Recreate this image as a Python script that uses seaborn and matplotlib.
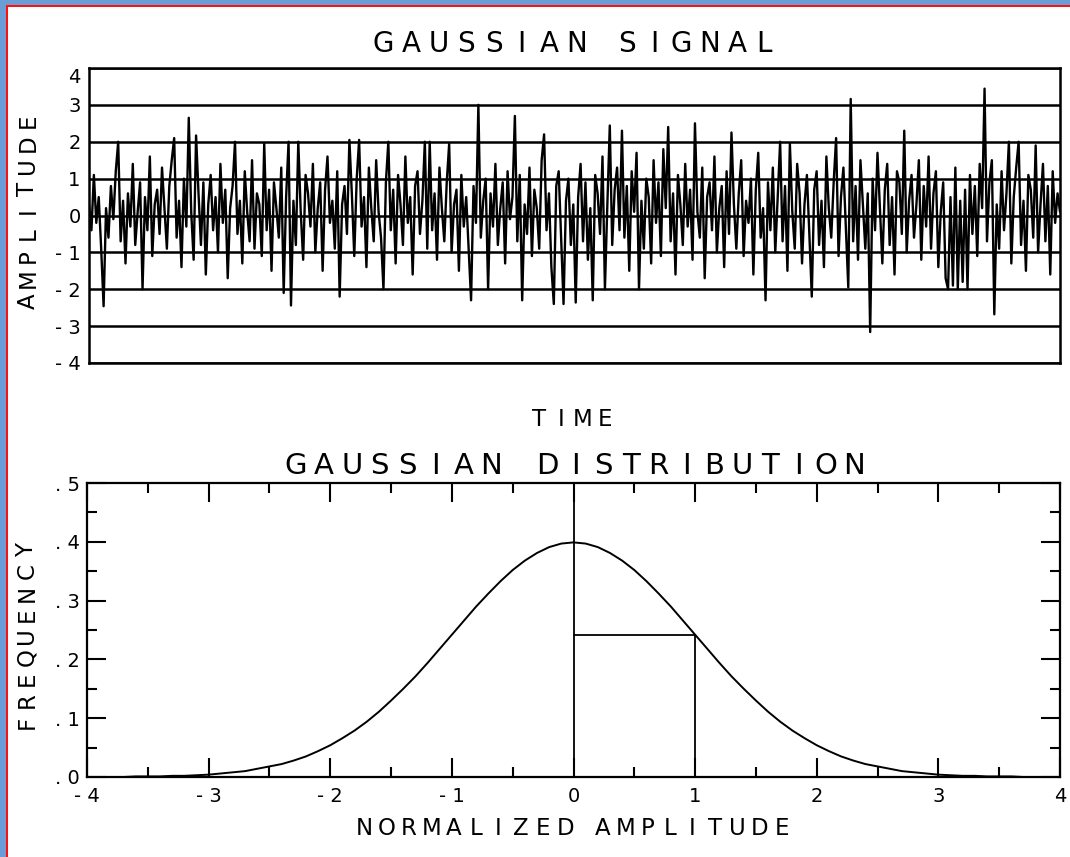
import matplotlib
matplotlib.use('Agg')
import matplotlib.pyplot as plt
import seaborn as sns
import numpy as np
from matplotlib.patches import Rectangle
from matplotlib.ticker import MultipleLocator

signal = [
    0.3, -0.4, 1.1, -0.2, 0.5, -0.9, -2.46, 0.2, -0.6, 0.8, -0.1, 1.2, 2.0, -0.7, 0.4, -1.3, 0.6, -0.3, 1.4, -0.8,
    0.1, 0.9, -2.0, 0.5, -0.4, 1.6, -1.1, 0.3, 0.7, -0.5, 1.3, 0.2, -0.9, 0.8, 1.5, 2.1, -0.6, 0.4, -1.4, 1.0,
    -0.3, 2.65, 0.1, -1.2, 2.17, 0.6, -0.8, 0.9, -1.6, 0.3, 1.1, -0.4, 0.5, -1.0, 1.4, -0.2, 0.7, -1.7, 0.2, 0.8,
    2.0, -0.5, 0.4, -1.3, 1.2, 0.1, -0.7, 1.5, -0.9, 0.6, 0.3, -1.1, 1.95, -0.4, 0.7, -1.5, 0.9, 0.2, -0.6, 1.3,
    -2.1, 0.5, 2.0, -2.44, 0.4, -0.8, 2.0, 0.1, -1.2, 1.1, 0.6, -0.3, 1.4, -1.0, 0.2, 0.9, -1.5, 0.7, 1.6, -0.2,
    0.4, -0.9, 1.2, -2.2, 0.3, 0.8, -0.5, 2.05, 0.6, -1.1, 1.0, 2.05, -0.3, 0.5, -1.4, 1.3, 0.2, -0.7, 1.5, 0.1,
    -0.6, -2.0, 0.9, 2.0, -0.4, 0.7, -1.3, 1.1, 0.3, -0.8, 1.6, -0.2, 0.5, -1.6, 0.8, 1.2, -0.5, 0.4, 2.0, -0.9,
    2.0, -0.4, 0.6, -1.2, 1.3, 0.2, -0.7, 0.9, 1.95, -1.0, 0.3, 0.7, -1.5, 1.1, -0.3, 0.5, -0.9, -2.3, 0.8, -0.2,
    3.0, -0.6, 0.4, 1.0, -2.0, 0.6, -0.3, 1.4, -0.8, 0.2, 0.9, -1.3, 1.2, -0.1, 0.5, 2.7, -0.7, 1.1, -2.3, 0.3,
    -0.5, 1.3, -1.1, 0.7, 0.2, -0.9, 1.5, 2.2, -0.4, 0.6, -1.4, -2.4, 0.8, 1.2, -0.6, -2.4, 0.4, 1.0, -0.8, 0.3,
    -2.36, 0.5, 1.4, -0.7, 0.9, -1.2, 0.2, -2.3, 1.1, 0.6, -0.5, 1.6, -2.0, 0.3, 2.44, -0.8, 0.7, 1.3, -0.4, 2.3,
    -0.6, 0.8, -1.5, 1.2, 0.1, 1.7, -2.0, 0.4, -0.9, 1.0, 0.5, -1.3, 1.5, -0.2, 0.9, -1.1, 1.8, 0.2, 2.4, -0.7,
    0.6, -1.6, 1.1, 0.3, -0.8, 1.4, -0.3, 0.7, -1.2, 2.5, 0.1, -0.6, 1.3, -1.7, 0.5, 0.9, -0.4, 1.6, -1.0, 0.2,
    0.8, -1.4, 1.2, -0.5, 2.25, 0.3, -0.9, 0.6, 1.5, -1.1, 0.4, -0.2, 1.0, -1.6, 0.7, 1.7, -0.6, 0.2, -2.3, 0.9,
    -0.4, 1.3, -1.0, 0.5, 2.0, -0.7, 0.8, -1.5, 1.95, 0.1, -0.9, 1.4, 0.6, -1.3, 0.3, 1.1, -0.5, -2.2, 0.7, 1.2,
    -0.8, 0.4, -1.4, 1.6, 0.2, -0.6, 0.9, 2.1, -1.1, 0.5, 1.3, -0.3, -1.95, 3.16, -0.7, 0.8, -1.2, 1.5, 0.3, -0.9,
    0.6, -3.16, 1.0, -0.4, 1.7, 0.2, -1.3, 0.7, 1.4, -0.8, 0.5, -1.6, 1.2, 0.9, -0.5, 2.3, -1.0, 0.4, 1.1, -0.6,
    0.3, 1.5, -1.2, 0.8, -0.3, 1.6, -0.9, 0.6, 1.2, -1.4, 0.1, 0.9, -1.7, -2.0, 0.5, -1.9, 1.3, -2.0, 0.4, -1.8,
    0.7, -2.0, 1.1, -0.5, 0.8, -1.1, 1.4, 0.2, 3.44, -0.7, 0.9, 1.5, -2.68, 0.3, -0.9, 1.2, -0.4, 0.6, 2.0, -1.3,
    0.5, 1.3, 2.0, -0.8, 0.4, -1.5, 1.1, 0.7, -0.6, 1.9, -1.0, 0.3, 1.4, -0.7, 0.8, -1.6, 1.2, -0.2, 0.6, 0.1,
]
signal_ticks = [-4, -3, -2, -1, 0, 1, 2, 3, 4]
signal_labels = ['- 4', '- 3', '- 2', '- 1', '0', '1', '2', '3', '4']

# distribution curve
amplitude = [-4.0, -3.9, -3.8, -3.7, -3.6, -3.5, -3.4, -3.3, -3.2, -3.1,
             -3.0, -2.9, -2.8, -2.7, -2.6, -2.5, -2.4, -2.3, -2.2, -2.1,
             -2.0, -1.9, -1.8, -1.7, -1.6, -1.5, -1.4, -1.3, -1.2, -1.1,
             -1.0, -0.9, -0.8, -0.7, -0.6, -0.5, -0.4, -0.3, -0.2, -0.1,
             0.0, 0.1, 0.2, 0.3, 0.4, 0.5, 0.6, 0.7, 0.8, 0.9,
             1.0, 1.1, 1.2, 1.3, 1.4, 1.5, 1.6, 1.7, 1.8, 1.9,
             2.0, 2.1, 2.2, 2.3, 2.4, 2.5, 2.6, 2.7, 2.8, 2.9,
             3.0, 3.1, 3.2, 3.3, 3.4, 3.5, 3.6, 3.7, 3.8, 3.9, 4.0]
frequency = [0.000, 0.000, 0.000, 0.000, 0.001, 0.001, 0.001, 0.002, 0.002, 0.003,
             0.004, 0.006, 0.008, 0.010, 0.014, 0.018, 0.022, 0.028, 0.035, 0.044,
             0.054, 0.066, 0.079, 0.094, 0.111, 0.130, 0.150, 0.171, 0.194, 0.218,
             0.242, 0.266, 0.290, 0.312, 0.333, 0.352, 0.368, 0.381, 0.391, 0.397,
             0.399, 0.397, 0.391, 0.381, 0.368, 0.352, 0.333, 0.312, 0.290, 0.266,
             0.242, 0.218, 0.194, 0.171, 0.150, 0.130, 0.111, 0.094, 0.079, 0.066,
             0.054, 0.044, 0.035, 0.028, 0.022, 0.018, 0.014, 0.010, 0.008, 0.006,
             0.004, 0.003, 0.002, 0.002, 0.001, 0.001, 0.001, 0.000, 0.000, 0.000, 0.000]
amp_ticks = [-4, -3, -2, -1, 0, 1, 2, 3, 4]
amp_labels = ['- 4', '- 3', '- 2', '- 1', '0', '1', '2', '3', '4']
freq_ticks = [0.0, 0.1, 0.2, 0.3, 0.4, 0.5]
freq_labels = ['. 0', '. 1', '. 2', '. 3', '. 4', '. 5']

W, H = 1070, 857

sns.set_style('white')
plt.rcParams['font.family'] = ['DejaVu Sans']


def spaced_text(fig, text, cx, cy, step, size, gap=1.0, vertical=False):
    # plotter-style lettering: every letter in its own slot
    units = [gap if c == ' ' else 1.0 for c in text]
    pos = [0.0]
    for i in range(1, len(text)):
        pos.append(pos[-1] + (units[i - 1] + units[i]) / 2)
    mid = pos[-1] / 2
    cap = 0.729 * size * 100 / 72
    for c, p in zip(text, pos):
        if c == ' ':
            continue
        if vertical:
            x, y = cx + cap / 2, cy + (mid - p) * step
            fig.text(x / W, 1 - y / H, c, rotation=90, rotation_mode='anchor',
                     ha='center', va='baseline', fontsize=size, color='black')
        else:
            x, y = cx + (p - mid) * step, cy + cap / 2
            fig.text(x / W, 1 - y / H, c, ha='center', va='baseline',
                     fontsize=size, color='black')


fig = plt.figure(figsize=(W / 100, H / 100), dpi=100, facecolor='#6a9dd6')
fig.add_artist(Rectangle((8 / W, 0), 1, 1 - 7 / H, transform=fig.transFigure,
                         facecolor='white', edgecolor='none', zorder=-2))
fig.add_artist(Rectangle((6 / W, 0), 1.6 / W, 1 - 5 / H, transform=fig.transFigure,
                         facecolor='#ff1010', edgecolor='none', zorder=-1))
fig.add_artist(Rectangle((6 / W, 1 - 6.6 / H), 1, 1.6 / H, transform=fig.transFigure,
                         facecolor='#ff1010', edgecolor='none', zorder=-1))

# upper panel: the signal
ax1 = fig.add_axes([89 / W, 1 - 363 / H, 971 / W, 295 / H])
t = np.arange(len(signal))
sns.lineplot(x=t, y=signal, ax=ax1, color='black', linewidth=1.7)
ax1.set_xlim(0, len(signal) - 1)
ax1.set_ylim(-4, 4)
ax1.set_xticks([])
ax1.set_yticks(signal_ticks)
labels = ax1.set_yticklabels(signal_labels, fontsize=14)
labels[-1].set_va('top')
ax1.tick_params(axis='y', length=0, pad=6, labelcolor='black')
ax1.yaxis.grid(True, color='black', linewidth=1.8)
ax1.set_xlabel('')
ax1.set_ylabel('')
for s in ax1.spines.values():
    s.set_color('black')
    s.set_linewidth(1.8)

# lower panel: the distribution
ax2 = fig.add_axes([87 / W, 1 - 777 / H, 973 / W, 294 / H])
sns.lineplot(x=amplitude, y=frequency, ax=ax2, color='black', linewidth=1.4)
ax2.axvline(0, color='black', linewidth=1.3)
f1 = frequency[amplitude.index(1.0)]
ax2.plot([0, 1], [f1, f1], color='black', linewidth=1.3)
ax2.plot([1, 1], [0, f1], color='black', linewidth=1.3)
ax2.set_xlim(-4, 4)
ax2.set_ylim(0, 0.5)
ax2.set_xticks(amp_ticks)
ax2.set_xticklabels(amp_labels, fontsize=14)
ax2.set_yticks(freq_ticks)
ax2.set_yticklabels(freq_labels, fontsize=14)
ax2.xaxis.set_minor_locator(MultipleLocator(0.5))
ax2.yaxis.set_minor_locator(MultipleLocator(0.05))
ax2.tick_params(which='both', direction='in', bottom=True, left=True, top=True, right=True,
                width=1.5, color='black', labelcolor='black')
ax2.tick_params(which='major', length=14)
ax2.tick_params(which='minor', length=7.5)
ax2.tick_params(axis='x', pad=7)
ax2.tick_params(axis='y', pad=5)
ax2.set_xlabel('')
ax2.set_ylabel('')
for s in ax2.spines.values():
    s.set_color('black')
    s.set_linewidth(1.6)

spaced_text(fig, 'GAUSSIAN SIGNAL', 574, 42, 27.6, 20, gap=0.8)
spaced_text(fig, 'TIME', 572, 418, 22, 16.5)
spaced_text(fig, 'GAUSSIAN DISTRIBUTION', 575, 463, 27.9, 21, gap=1.0)
spaced_text(fig, 'NORMALIZED AMPLITUDE', 573, 827, 22.3, 16.5, gap=0.7)
spaced_text(fig, 'AMPLITUDE', 26, 211, 22.5, 16.5, vertical=True)
spaced_text(fig, 'FREQUENCY', 25, 636, 21.5, 16.5, vertical=True)

fig.savefig('out.png', dpi=100, facecolor=fig.get_facecolor())
